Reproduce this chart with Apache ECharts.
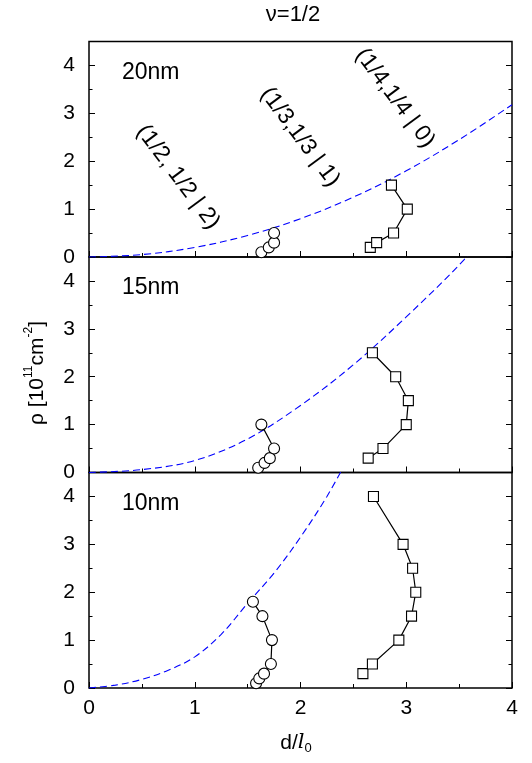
<!DOCTYPE html>
<html>
<head>
<meta charset="utf-8">
<script src="https://cdn.jsdelivr.net/npm/echarts@6/dist/echarts.min.js"></script>
<style>
  html, body { margin: 0; padding: 0; background: #fff; }
  #chart { width: 532px; height: 763px; }
</style>
</head>
<body>
<div id="chart"></div>
<script>
// Critical density vs. d/l0 for the three well widths (20, 15, 10 nm)
const panelNames = ['20nm', '15nm', '10nm'];

// circles: (1/3,1/3|1) -> (1/2,1/2|2) boundary
const d20Circ = [1.63, 1.70, 1.75, 1.75];
const rho20Circ = [0.1, 0.2, 0.3, 0.5];
const d15Circ = [1.60, 1.66, 1.71, 1.75, 1.63];
const rho15Circ = [0.1, 0.2, 0.3, 0.5, 1.0];
const d10Circ = [1.58, 1.61, 1.655, 1.72, 1.73, 1.64, 1.55];
const rho10Circ = [0.1, 0.2, 0.3, 0.5, 1.0, 1.5, 1.8];

// squares: (1/4,1/4|0) -> (1/3,1/3|1) boundary
const d20Sq = [2.66, 2.72, 2.88, 3.01, 2.86];
const rho20Sq = [0.2, 0.3, 0.5, 1.0, 1.5];
const d15Sq = [2.64, 2.78, 3.00, 3.02, 2.90, 2.68];
const rho15Sq = [0.3, 0.5, 1.0, 1.5, 2.0, 2.5];
const d10Sq = [2.59, 2.68, 2.93, 3.05, 3.09, 3.06, 2.97, 2.69];
const rho10Sq = [0.3, 0.5, 1.0, 1.5, 2.0, 2.5, 3.0, 4.0];

// dashed curves
const d20Dash = [0, 0.5, 1, 1.5, 2, 2.5, 3, 3.5, 4];
const rho20Dash = [0, 0.05, 0.2, 0.45, 0.8, 1.25, 1.8, 2.45, 3.18];
const d15Dash = [0, 0.5, 1, 1.5, 2, 2.5, 3, 3.55, 4];
const rho15Dash = [0, 0.06, 0.25, 0.7, 1.4, 2.25, 3.25, 4.45, 5.6];
const d10Dash = [0, 0.25, 0.5, 0.75, 1, 1.25, 1.5, 1.75, 2, 2.25, 2.5];
const rho10Dash = [0, 0.06, 0.18, 0.37, 0.65, 1.12, 1.77, 2.4, 3.15, 4.0, 5.0];

const xTicks = [0, 1, 2, 3, 4];
const yTicks = [0, 1, 2, 3, 4];

const stateLabels = ['(1/2, 1/2 | 2)', '(1/3,1/3 | 1)', '(1/4,1/4 | 0)'];

const FONT = 'Liberation Sans, Arial, sans-serif';
const zip = (xs, ys) => xs.map((x, i) => [x, ys[i]]);

const circData = [zip(d20Circ, rho20Circ), zip(d15Circ, rho15Circ), zip(d10Circ, rho10Circ)];
const sqData = [zip(d20Sq, rho20Sq), zip(d15Sq, rho15Sq), zip(d10Sq, rho10Sq)];
const dashData = [zip(d20Dash, rho20Dash), zip(d15Dash, rho15Dash), zip(d10Dash, rho10Dash)];

const gridTop = [41.5, 257, 472.5];
const gridH = 215.5;

const grids = [], xAxes = [], yAxes = [], series = [];

for (let i = 0; i < 3; i++) {
  grids.push({
    left: 89, width: 423, top: gridTop[i], height: gridH,
    show: true, borderColor: '#000', borderWidth: 1.5, backgroundColor: 'transparent'
  });
  xAxes.push({
    type: 'value', gridIndex: i, min: xTicks[0], max: xTicks[xTicks.length - 1], interval: 1,
    axisLine: { show: false },
    axisTick: { show: true, inside: true, length: 6, lineStyle: { color: '#000', width: 1 } },
    minorTick: { show: true, splitNumber: 2, length: 4, lineStyle: { color: '#000', width: 1 } },
    splitLine: { show: false },
    axisLabel: {
      show: i === 2, fontSize: 21, color: '#000', fontFamily: FONT, margin: 10,
      formatter: v => xTicks.includes(v) ? String(v) : ''
    }
  });
  // left / right, major / minor y ticks
  ['left', 'right'].forEach(pos => {
    yAxes.push({
      type: 'value', gridIndex: i, position: pos, min: 0, max: 4.5, interval: 1,
      axisLine: { show: false },
      axisTick: { show: true, inside: true, length: 6, lineStyle: { color: '#000', width: 1 } },
      splitLine: { show: false },
      axisLabel: {
        show: pos === 'left', fontSize: 21, color: '#000', fontFamily: FONT, margin: 14,
        showMaxLabel: false,
        formatter: v => yTicks.includes(v) ? String(v) : ''
      }
    });
    yAxes.push({
      type: 'value', gridIndex: i, position: pos, min: 0, max: 4.5, interval: 0.5,
      axisLine: { show: false },
      axisTick: { show: true, inside: true, length: 3.5, lineStyle: { color: '#000', width: 1 } },
      splitLine: { show: false },
      axisLabel: { show: false }
    });
  });
  const yIdx = i * 4;
  series.push({
    type: 'line', xAxisIndex: i, yAxisIndex: yIdx, data: dashData[i], smooth: 0.35,
    symbol: 'none', clip: true, z: 2,
    lineStyle: { color: '#0000ff', width: 1.1, type: [7, 4] }
  });
  series.push({
    type: 'line', xAxisIndex: i, yAxisIndex: yIdx, data: circData[i],
    symbol: 'circle', symbolSize: 11, clip: false, z: 3,
    lineStyle: { color: '#000', width: 1.2 },
    itemStyle: { color: '#fff', borderColor: '#000', borderWidth: 1.1 }
  });
  series.push({
    type: 'line', xAxisIndex: i, yAxisIndex: yIdx, data: sqData[i],
    symbol: 'rect', symbolSize: 10, clip: false, z: 3,
    lineStyle: { color: '#000', width: 1.2 },
    itemStyle: { color: '#fff', borderColor: '#000', borderWidth: 1.1 }
  });
}

const graphic = [
  { type: 'text', x: 293, y: 15, style: { text: 'ν=1/2', fontSize: 22, fontFamily: FONT, fill: '#000', align: 'center', verticalAlign: 'middle' } },
  {
    type: 'text', x: 37, y: 373, rotation: Math.PI / 2,
    style: {
      text: 'ρ [10{sup|11}cm{sup|-2}]', fontSize: 21, fontFamily: FONT, fill: '#000',
      align: 'center', verticalAlign: 'middle',
      rich: {
        sup: { fontSize: 12, fontFamily: FONT, fill: '#000', padding: [0, 0, 16, 0] }
      }
    }
  },
  {
    type: 'text', x: 296, y: 743,
    style: {
      text: 'd/{it|l}{sub|0}', fontSize: 21, fontFamily: FONT, fill: '#000',
      align: 'center', verticalAlign: 'middle',
      rich: {
        it: { fontSize: 21, fontStyle: 'italic', fontFamily: 'DejaVu Serif, serif', fill: '#000' },
        sub: { fontSize: 13, fontFamily: FONT, fill: '#000', padding: [10, 0, 0, 0] }
      }
    }
  }
];

panelNames.forEach((name, i) => {
  graphic.push({
    type: 'text', x: 122, y: gridTop[i] + 31,
    style: { text: name, fontSize: 23, fontFamily: FONT, fill: '#000', align: 'left', verticalAlign: 'middle' }
  });
});

const labelPos = [[178, 177], [300, 137], [395, 98]];
stateLabels.forEach((t, i) => {
  graphic.push({
    type: 'text', x: labelPos[i][0], y: labelPos[i][1], rotation: -0.93,
    style: { text: t, fontSize: 23, fontFamily: FONT, fill: '#000', align: 'center', verticalAlign: 'middle' }
  });
});

const chart = echarts.init(document.getElementById('chart'), null, { renderer: 'canvas' });
chart.setOption({
  backgroundColor: '#fff',
  animation: false,
  grid: grids,
  xAxis: xAxes,
  yAxis: yAxes,
  series: series,
  graphic: graphic
});
</script>
</body>
</html>
